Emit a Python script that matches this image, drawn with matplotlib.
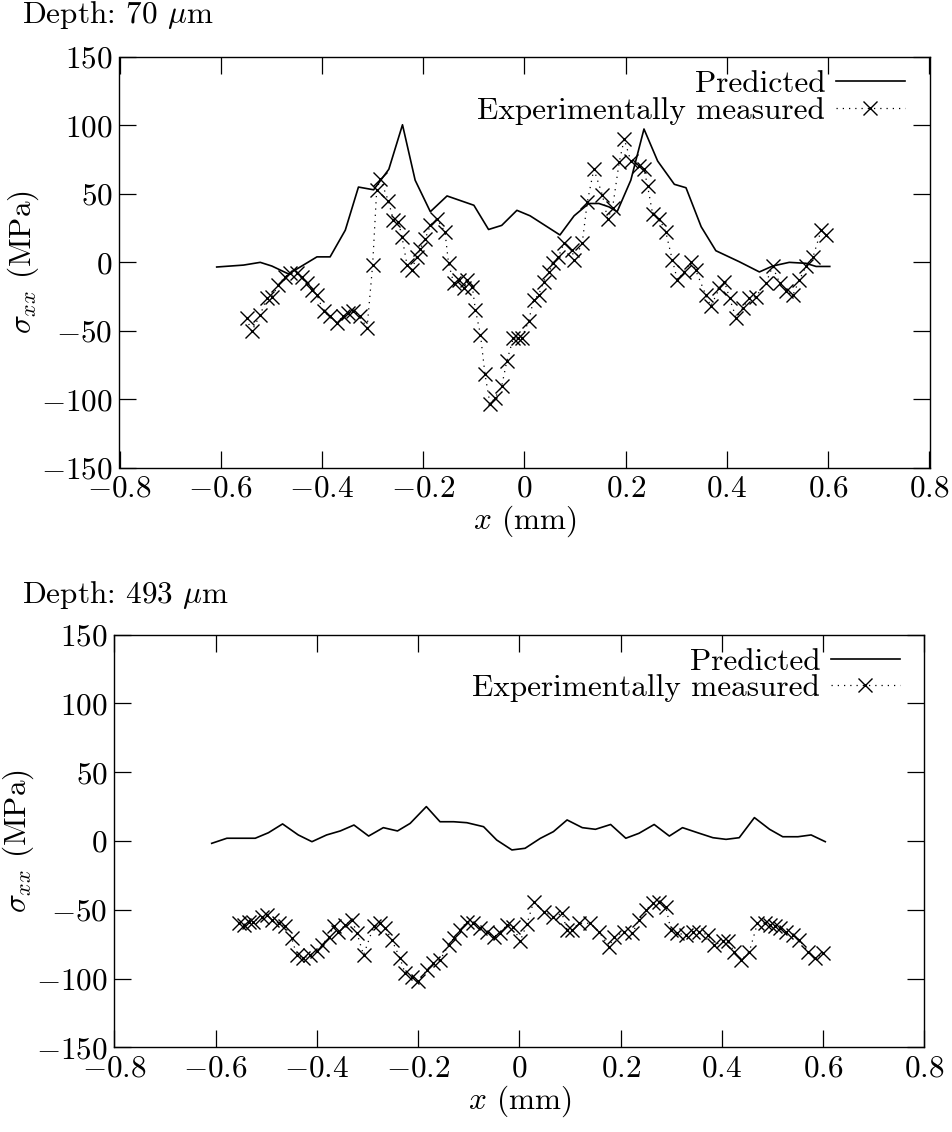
import numpy as np
import matplotlib
matplotlib.use("Agg")
import matplotlib.pyplot as plt
from matplotlib.ticker import FuncFormatter

plt.rcParams["font.family"] = "serif"
plt.rcParams["font.serif"] = ["cmr10"]
plt.rcParams["mathtext.fontset"] = "cm"
plt.rcParams["axes.unicode_minus"] = False

# --- Depth 70 um ---
x_pred70 = [-0.608, -0.555, -0.522, -0.499, -0.466, -0.41, -0.384, -0.354, -0.328, -0.298,
            -0.268, -0.241, -0.216, -0.186, -0.153, -0.10, -0.071, -0.045, -0.015, 0.011,
            0.07, 0.098, 0.127, 0.147, 0.167, 0.183, 0.21, 0.236, 0.263, 0.296,
            0.319, 0.349, 0.378, 0.424, 0.464, 0.49, 0.523, 0.556, 0.576, 0.603]
y_pred70 = [-3.4, -2, 0, -2.7, -8.5, 4, 4, 23.5, 55, 53,
            68, 100.5, 60, 37, 48.5, 41.7, 24, 27, 38, 34,
            20, 34, 43, 43, 40.5, 37, 60, 97.4, 74, 57,
            54.5, 26, 8.5, 0.5, -7, -2.7, 0, -0.7, -3, -3]

x_exp70 = [-0.549, -0.539, -0.522, -0.509, -0.499, -0.486, -0.473, -0.463, -0.45, -0.44,
           -0.43, -0.42, -0.41, -0.397, -0.384, -0.371, -0.358, -0.348, -0.338, -0.325,
           -0.311, -0.30, -0.292, -0.285, -0.269, -0.259, -0.249, -0.242, -0.232, -0.223,
           -0.213, -0.206, -0.196, -0.186, -0.173, -0.157, -0.15, -0.14, -0.13, -0.12,
           -0.113, -0.103, -0.097, -0.087, -0.078, -0.068, -0.058, -0.045, -0.035, -0.022,
           -0.012, -0.005, 0.008, 0.018, 0.028, 0.038, 0.048, 0.057, 0.067, 0.078,
           0.094, 0.098, 0.114, 0.124, 0.137, 0.154, 0.164, 0.174, 0.187, 0.197,
           0.21, 0.226, 0.236, 0.243, 0.253, 0.266, 0.279, 0.292, 0.302, 0.316,
           0.329, 0.338, 0.358, 0.368, 0.385, 0.395, 0.405, 0.418, 0.431, 0.444,
           0.457, 0.477, 0.49, 0.504, 0.517, 0.53, 0.543, 0.556, 0.57, 0.586,
           0.596]
y_exp70 = [-40.7, -50.4, -38.3, -26, -25, -16.5, -10.4, -8, -8, -10.4,
           -15, -20, -23.7, -35.9, -39.5, -44, -39.5, -37, -35.9, -39.5,
           -48, -2, 52.6, 61, 45, 30.8, 29.6, 18.7, -2, -5.6,
           4, 10, 17.4, 27, 32, 22, -0.7, -15, -13, -19,
           -13, -18, -34.6, -52.8, -81.9, -103.7, -98.8, -90.4, -72.2, -55.2,
           -55.2, -55, -43, -27.4, -23.7, -14, -6.8, -0.7, 4, 14,
           9, 1.7, 14, 44, 68, 49, 32, 40, 73, 90,
           74, 70.7, 68, 56, 35.6, 32, 22.3, 1.7, -12.8, -6.8,
           0.5, -5.6, -23.7, -32, -19, -14, -26, -40.7, -33.4, -26,
           -25, -15, -3, -15, -21, -24, -12.8, -3, 4, 23.5,
           20]

# --- Depth 493 um ---
x_pred493 = [-0.608, -0.578, -0.522, -0.496, -0.468, -0.437, -0.41, -0.381, -0.354, -0.327,
             -0.298, -0.269, -0.241, -0.216, -0.184, -0.157, -0.13, -0.104, -0.071, -0.045,
             -0.015, 0.011, 0.041, 0.067, 0.094, 0.124, 0.15, 0.18, 0.21, 0.236,
             0.266, 0.296, 0.322, 0.352, 0.382, 0.408, 0.434, 0.464, 0.494, 0.52,
             0.55, 0.576, 0.604]
y_pred493 = [-1.7, 2, 2, 6, 12.4, 4.4, -0.5, 4.4, 7.3, 11.6,
             3.6, 9.7, 7.3, 12.8, 25, 14, 14, 13.3, 10.4, 0.7,
             -6.5, -5.3, 1.9, 6.8, 15.3, 9.7, 8.5, 12, 2, 5.6,
             12, 3.6, 9.7, 6, 2.4, 1.2, 2.4, 17, 8.5, 3.1,
             3.1, 4.4, -0.5]

x_exp493 = [-0.555, -0.545, -0.535, -0.526, -0.509, -0.499, -0.489, -0.476, -0.463, -0.45,
            -0.44, -0.427, -0.414, -0.40, -0.39, -0.377, -0.367, -0.358, -0.344, -0.331,
            -0.321, -0.308, -0.288, -0.275, -0.265, -0.252, -0.236, -0.226, -0.213, -0.20,
            -0.183, -0.17, -0.157, -0.14, -0.13, -0.117, -0.104, -0.091, -0.078, -0.064,
            -0.051, -0.038, -0.025, -0.012, 0.001, 0.015, 0.028, 0.048, 0.067, 0.084,
            0.094, 0.104, 0.117, 0.14, 0.157, 0.177, 0.187, 0.207, 0.223, 0.236,
            0.25, 0.263, 0.276, 0.289, 0.299, 0.312, 0.329, 0.342, 0.355, 0.372,
            0.385, 0.401, 0.412, 0.424, 0.438, 0.454, 0.47, 0.484, 0.494, 0.504,
            0.514, 0.527, 0.54, 0.553, 0.57, 0.583, 0.60]
y_exp493 = [-59.8, -61, -58.6, -58.6, -55, -53.8, -57.4, -59.8, -62, -70.7,
            -82.8, -85.3, -82.8, -80, -75.6, -69.5, -62, -65.9, -61, -57.4,
            -67, -82.8, -62, -59.8, -63.5, -72, -85.3, -96, -98.6, -102,
            -93.8, -89, -86.5, -75.6, -70.7, -64.7, -58.6, -59.8, -63.5, -66,
            -69.5, -67, -61, -62.3, -73, -60, -44, -51.4, -55, -52.6,
            -64.7, -64.7, -59.8, -59.8, -66, -76.8, -69.5, -66, -67, -57.4,
            -50, -45.3, -44, -47.7, -64.7, -67, -68.3, -66, -66, -68.3,
            -75.6, -73, -73, -80.4, -86.5, -80.4, -59.8, -59.8, -61, -62,
            -63.5, -66, -68.3, -72, -80.4, -85.3, -81.6]

panels = [
    ("Depth: 70 $\\mu$m", x_pred70, y_pred70, x_exp70, y_exp70,
     [119.5 / 953, 1 - 467.7 / 1132, 810 / 953, 410.7 / 1132], 15),
    ("Depth: 493 $\\mu$m", x_pred493, y_pred493, x_exp493, y_exp493,
     [114.5 / 953, 1 - 1047.4 / 1132, 810 / 953, 412.8 / 1132], 595),
]

fig = plt.figure(figsize=(9.53, 11.32), dpi=100)
fs = 22.5


def fmt(v, pos):
    if abs(v) < 1e-9:
        return "$0$"
    return "$%g$" % v


for title, xp, yp, xe, ye, rect, ty in panels:
    ax = fig.add_axes(rect)
    ax.plot(xp, yp, color="black", lw=1.2, label="Predicted")
    ax.plot(xe, ye, color="black", lw=0.9, linestyle=(0, (1, 4)),
            marker="x", ms=10.5, mew=1.0, label="Experimentally measured")
    ax.set_xlim(-0.8, 0.8)
    ax.set_ylim(-150, 150)
    ax.set_xticks(np.arange(-0.8, 0.81, 0.2))
    ax.set_yticks(np.arange(-150, 151, 50))
    ax.xaxis.set_major_formatter(FuncFormatter(fmt))
    ax.yaxis.set_major_formatter(FuncFormatter(fmt))
    ax.tick_params(direction="in", length=12, width=0.9, top=True, right=True,
                   labelsize=fs)
    ax.tick_params(axis="x", pad=5)
    ax.tick_params(axis="y", pad=5)
    for s in ax.spines.values():
        s.set_linewidth(1.0)
    ax.set_xlabel("$x$ (mm)", fontsize=fs, labelpad=1)
    ax.set_ylabel("$\\sigma_{xx}$ (MPa)", fontsize=fs, labelpad=0)
    ax.legend(loc="upper right", frameon=False, markerfirst=False, fontsize=fs,
              handlelength=2.2, handletextpad=0.35, labelspacing=-0.05,
              borderaxespad=0.0, bbox_to_anchor=(0.985, 0.998))
    fig.text(22 / 953, 1 - ty / 1132, title, fontsize=fs, va="center", ha="left")

fig.savefig("out.png", dpi=100)
